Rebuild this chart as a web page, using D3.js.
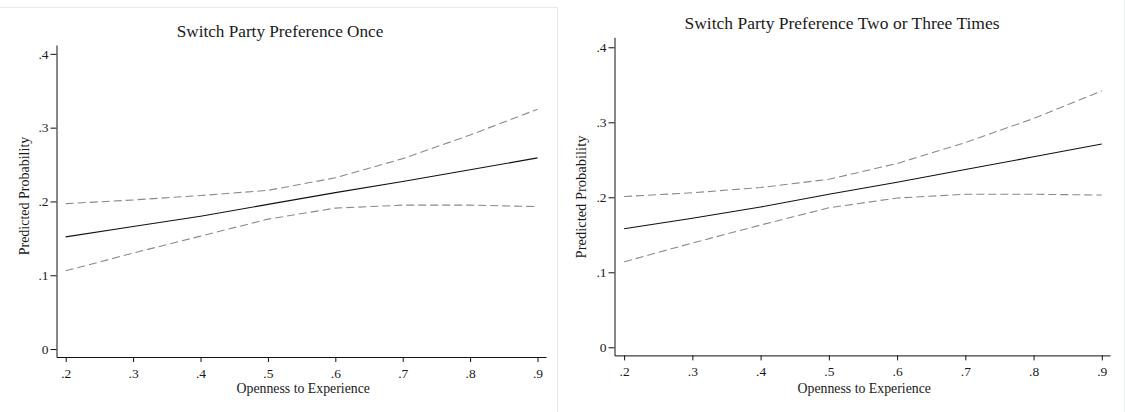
<!DOCTYPE html>
<html>
<head>
<meta charset="utf-8">
<script src="https://cdn.jsdelivr.net/npm/d3@7/dist/d3.min.js"></script>
<style>
  body { margin: 0; background: #fff; }
  svg text { font-family: "Liberation Serif", "Times New Roman", serif; fill: #1a1a1a; }
</style>
</head>
<body>
<svg id="chart" width="1125" height="412"></svg>
<script>
// openness values on the x axis
const openness = [0.2, 0.3, 0.4, 0.5, 0.6, 0.7, 0.8, 0.9];
const xTicks = [0.2, 0.3, 0.4, 0.5, 0.6, 0.7, 0.8, 0.9];
const yTicks = [0, 0.1, 0.2, 0.3, 0.4];

// switch once
const onceFit   = [0.152, 0.166, 0.180, 0.196, 0.212, 0.227, 0.243, 0.259];
const onceUpper = [0.197, 0.202, 0.208, 0.215, 0.232, 0.258, 0.290, 0.325];
const onceLower = [0.106, 0.130, 0.153, 0.176, 0.191, 0.195, 0.195, 0.193];

// switch two or three times
const twoFit   = [0.158, 0.172, 0.187, 0.204, 0.220, 0.237, 0.254, 0.271];
const twoUpper = [0.201, 0.206, 0.213, 0.224, 0.245, 0.273, 0.305, 0.342];
const twoLower = [0.114, 0.139, 0.163, 0.186, 0.199, 0.204, 0.204, 0.203];

const svg = d3.select("#chart");

// faint frames of the two pictures
svg.append("path")
  .attr("d", "M0,7.5H557.5V412")
  .attr("fill", "none").attr("stroke", "#e9e9e9");
svg.append("line")
  .attr("x1", 1124.5).attr("x2", 1124.5).attr("y1", 0).attr("y2", 412)
  .attr("stroke", "#e6eef0");

const fmt = d => d === 0 ? "0" : d3.format(".1f")(d).replace(/^0/, "");

function styleAxis(a) {
  a.attr("font-size", 13.5).attr("font-family", "Liberation Serif");
  a.select(".domain").attr("stroke", "#111");
  a.selectAll(".tick line").attr("stroke", "#111");
  a.selectAll(".tick text").attr("fill", "#1a1a1a").style("font-size", "13.5px");
}

function drawPanel(p) {
  const g = svg.append("g");

  const x = d3.scaleLinear().domain(p.xDom).range(p.xRange);
  const y = d3.scaleLinear().domain(p.yDom).range(p.yRange);

  // y axis
  const ya = g.append("g")
    .attr("transform", "translate(" + p.xRange[0] + ",0)")
    .call(d3.axisLeft(y).tickValues(yTicks).tickFormat(fmt).tickSize(6).tickSizeOuter(0).tickPadding(2));
  styleAxis(ya);

  // x axis
  const xa = g.append("g")
    .attr("transform", "translate(0," + p.yRange[0] + ")")
    .call(d3.axisBottom(x).tickValues(xTicks).tickFormat(fmt).tickSize(5).tickSizeOuter(0).tickPadding(6));
  styleAxis(xa);

  const line = vals => d3.line()
    .x((d, i) => x(openness[i]))
    .y(d => y(d))(vals);

  g.append("path").attr("d", line(p.upper))
    .attr("fill", "none").attr("stroke", "#8a8a8a").attr("stroke-width", 1.1)
    .attr("stroke-dasharray", "8,4");
  g.append("path").attr("d", line(p.lower))
    .attr("fill", "none").attr("stroke", "#8a8a8a").attr("stroke-width", 1.1)
    .attr("stroke-dasharray", "8,4");
  g.append("path").attr("d", line(p.fit))
    .attr("fill", "none").attr("stroke", "#111").attr("stroke-width", 1.1);

  // titles
  g.append("text")
    .attr("x", p.titleX).attr("y", p.titleY)
    .attr("text-anchor", "middle")
    .style("font-size", p.titleSize)
    .text(p.title);

  g.append("text")
    .attr("x", (p.xRange[0] + p.xRange[1]) / 2 + 2).attr("y", 393)
    .attr("text-anchor", "middle")
    .style("font-size", "13.8px")
    .text("Openness to Experience");

  g.append("text")
    .attr("transform", "translate(" + p.yLabX + "," + p.yLabY + ") rotate(-90)")
    .attr("text-anchor", "middle")
    .style("font-size", p.yLabSize)
    .text("Predicted Probability");
}

drawPanel({
  title: "Switch Party Preference Once",
  titleX: 280, titleY: 37, titleSize: "17.2px",
  xDom: [0.1863, 0.9126], xRange: [56.5, 546],
  yDom: [-0.0108, 0.412], yRange: [357, 45],
  yLabX: 29, yLabY: 196, yLabSize: "14px",
  fit: onceFit, upper: onceUpper, lower: onceLower
});

drawPanel({
  title: "Switch Party Preference Two or Three Times",
  titleX: 842, titleY: 29, titleSize: "17.5px",
  xDom: [0.1859, 0.912], xRange: [614.5, 1110],
  yDom: [-0.0108, 0.4133], yRange: [355.4, 37.3],
  yLabX: 586, yLabY: 197, yLabSize: "14.5px",
  fit: twoFit, upper: twoUpper, lower: twoLower
});
</script>
</body>
</html>
